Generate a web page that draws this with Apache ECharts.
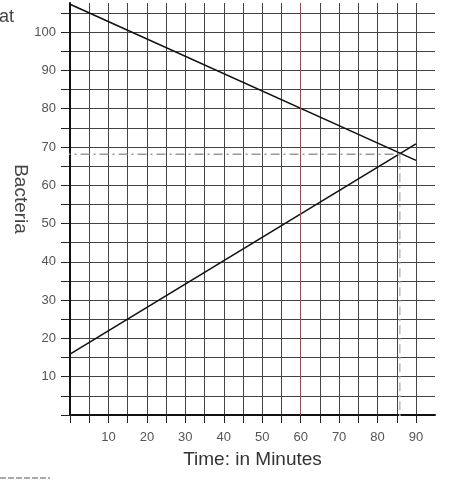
<!DOCTYPE html>
<html>
<head>
<meta charset="utf-8">
<script src="https://cdn.jsdelivr.net/npm/echarts@6/dist/echarts.min.js"></script>
<style>
    html, body { margin: 0; padding: 0; background: #fff; }
    #chart { width: 469px; height: 480px; }
</style>
</head>
<body>
<div id="chart"></div>
<script>
// data
const fallingLine = [[0, 107.3], [90, 66.5]];
const risingLine = [[0, 15.9], [90, 70.8]];
const crossX = 85.8;
const crossY = 68.1;
const markX = 60;
const xTickLabels = [10, 20, 30, 40, 50, 60, 70, 80, 90];
const yTickLabels = [10, 20, 30, 40, 50, 60, 70, 80, 90, 100];

const gridColor = '#444';
const redColor = '#c23a4a';
const font = 'Liberation Sans';
const chart = echarts.init(document.getElementById('chart'));

const option = {
    animation: false,
    grid: [
        // horizontal lines, 0..95 wide
        { left: 70, right: 34, top: 13, bottom: 65 },
        // vertical lines and the plotted lines, 0..90 wide
        { left: 70, right: 53, top: 3, bottom: 65 }
    ],
    xAxis: [
        {
            gridIndex: 0, type: 'value', min: 0, max: 95,
            axisLine: { show: true, lineStyle: { color: '#111', width: 2 } },
            axisTick: { show: false },
            axisLabel: { show: false },
            splitLine: { show: false },
            name: 'Time: in Minutes',
            nameLocation: 'middle',
            nameGap: 35,
            nameTextStyle: { fontFamily: font, fontSize: 19, color: '#333' }
        },
        {
            gridIndex: 1, type: 'value', min: 0, max: 90, interval: 5,
            axisLine: { show: false },
            axisTick: { show: true, length: 8, lineStyle: { color: '#222' } },
            axisLabel: {
                margin: 16, fontFamily: font, fontSize: 13, color: '#555',
                formatter: v => xTickLabels.includes(v) ? String(v) : ''
            },
            splitLine: { show: true, lineStyle: { color: gridColor, width: 1 } }
        }
    ],
    yAxis: [
        {
            gridIndex: 0, type: 'value', min: 0, max: 105, interval: 5,
            axisLine: { show: false },
            axisTick: { show: true, length: 9, lineStyle: { color: '#222' } },
            axisLabel: {
                margin: 14, fontFamily: font, fontSize: 13, color: '#555',
                formatter: v => yTickLabels.includes(v) ? String(v) : ''
            },
            splitLine: { show: true, lineStyle: { color: gridColor, width: 1 } }
        },
        {
            gridIndex: 1, type: 'value', min: 0, max: 107.6,
            axisLine: { show: true, lineStyle: { color: '#111', width: 2 } },
            axisTick: { show: false },
            axisLabel: { show: false },
            splitLine: { show: false }
        }
    ],
    graphic: [
        {
            type: 'text', x: -1, y: 8,
            style: { text: 'at', fontFamily: font, fontSize: 18, fill: '#444' }
        },
        {
            type: 'text', x: 20, y: 199, rotation: -Math.PI / 2,
            style: {
                text: 'Bacteria', fontFamily: font, fontSize: 19, fill: '#444',
                align: 'center', verticalAlign: 'middle'
            }
        },
        {
            type: 'line',
            shape: { x1: 0, y1: 478, x2: 50, y2: 478 },
            style: { stroke: '#555', lineWidth: 1, lineDash: [6, 2] }
        }
    ],
    series: [
        {
            type: 'line', xAxisIndex: 1, yAxisIndex: 1,
            data: fallingLine, symbol: 'none', silent: true,
            lineStyle: { color: '#111', width: 1.6 },
            markLine: {
                symbol: 'none', silent: true, label: { show: false },
                lineStyle: { color: redColor, width: 1, type: 'solid' },
                data: [{ xAxis: markX }]
            }
        },
        {
            type: 'line', xAxisIndex: 1, yAxisIndex: 1,
            data: risingLine, symbol: 'none', silent: true,
            lineStyle: { color: '#111', width: 1.6 }
        },
        {
            type: 'line', xAxisIndex: 1, yAxisIndex: 1, clip: false,
            data: [[-2.2, crossY], [crossX, crossY]], symbol: 'none', silent: true,
            lineStyle: { color: '#999', width: 1.5, type: [9, 4, 2, 4] }
        },
        {
            type: 'line', xAxisIndex: 1, yAxisIndex: 1, clip: false,
            data: [[crossX, crossY], [crossX, -0.8]], symbol: 'none', silent: true,
            lineStyle: { color: '#bbb', width: 1.5, type: [9, 4, 2, 4] }
        }
    ]
};

chart.setOption(option);
</script>
</body>
</html>
